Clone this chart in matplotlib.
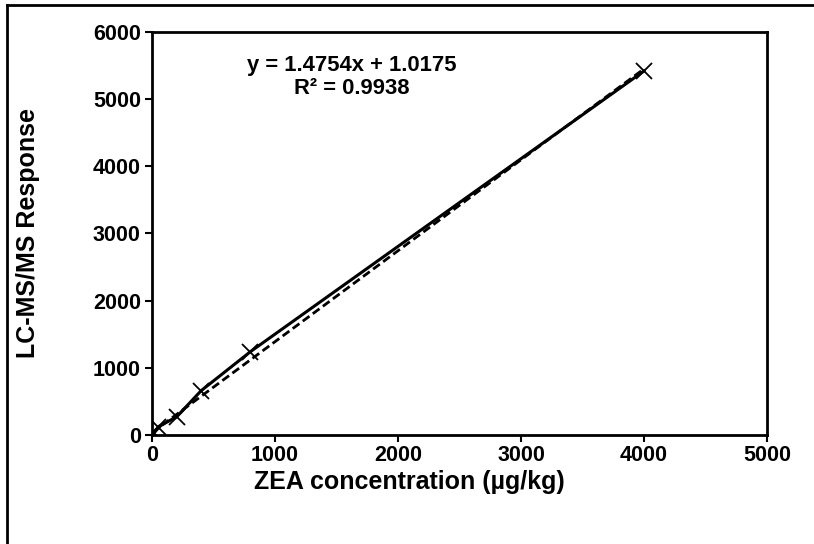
import matplotlib
matplotlib.use('Agg')
import matplotlib.pyplot as plt
import numpy as np

# 标准曲线数据
conc = [0, 2, 5, 10, 20, 50, 200, 400, 800, 4000]
response = [2, 5, 10, 18, 35, 120, 270, 660, 1240, 5420]
equation = 'y = 1.4754x + 1.0175'
r2_text = 'R² = 0.9938'

plt.rcParams['font.family'] = ['Liberation Sans', 'DejaVu Sans']
plt.rcParams['font.weight'] = 'bold'

fig = plt.figure(figsize=(8.14, 5.44), dpi=100)
ax = fig.add_axes([0.1867, 0.2004, 0.7556, 0.7408])

# 外框（只有左边和上边）
fig.add_artist(plt.Line2D([0.008, 0.008], [0, 0.991], transform=fig.transFigure, color='black', lw=2))
fig.add_artist(plt.Line2D([0.008, 1.0], [0.991, 0.991], transform=fig.transFigure, color='black', lw=2))

ax.plot(conc, response, '-', color='black', lw=2.2, marker='x', ms=11, mew=1.3)

# 线性趋势线
k, b = np.polyfit(conc, response, 1)
xs = np.array([0, max(conc)])
ax.plot(xs, k * xs + b, '--', color='black', lw=2, dashes=(3, 1.5))

ax.text(0.325, 0.918, equation, transform=ax.transAxes, ha='center', va='center', fontsize=15.8, fontweight='bold')
ax.text(0.325, 0.86, r2_text, transform=ax.transAxes, ha='center', va='center', fontsize=15.8, fontweight='bold')

ax.set_xlim(0, 5000)
ax.set_ylim(0, 6000)
ax.set_xticks(range(0, 5001, 1000))
ax.set_yticks(range(0, 6001, 1000))
for s in ax.spines.values():
    s.set_linewidth(2)
ax.tick_params(direction='out', length=5, width=1.5, labelsize=15.5)
ax.tick_params(axis='x', pad=2)
ax.tick_params(axis='y', pad=3)
for t in ax.get_xticklabels() + ax.get_yticklabels():
    t.set_fontweight('bold')
ax.set_xlabel('ZEA concentration (µg/kg)', fontsize=18, fontweight='bold')
ax.set_ylabel('LC-MS/MS Response', fontsize=18, fontweight='bold')
ax.xaxis.set_label_coords((409 - 152) / 615, (435 - 470) / 403)
ax.yaxis.set_label_coords((40 - 152) / 615, 0.5)

fig.savefig('out.png', dpi=100)
